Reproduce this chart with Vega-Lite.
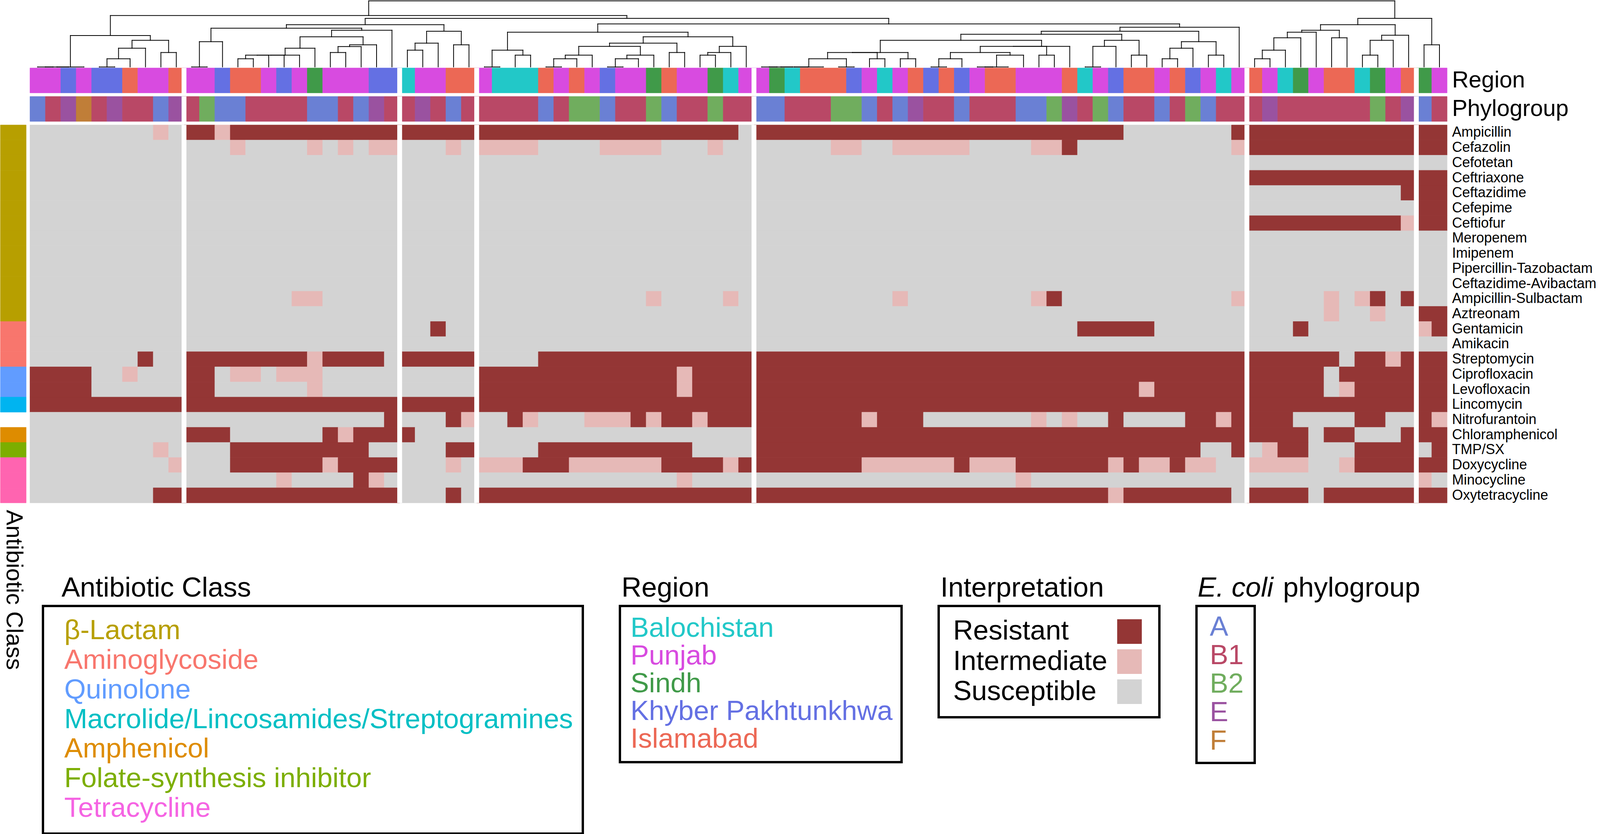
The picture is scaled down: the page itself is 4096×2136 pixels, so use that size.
{
"$schema": "https://vega.github.io/schema/vega-lite/v6.json",
"padding": 0,
"autosize": {"type": "pad"},
"background": "white",
"config": {"view": {"stroke": null}, "axis": {"grid": false}},
"datasets": {
"drugs": [
{"drug":"Ampicillin","class":"β-Lactam"},{"drug":"Cefazolin","class":"β-Lactam"},{"drug":"Cefotetan","class":"β-Lactam"},{"drug":"Ceftriaxone","class":"β-Lactam"},{"drug":"Ceftazidime","class":"β-Lactam"},{"drug":"Cefepime","class":"β-Lactam"},{"drug":"Ceftiofur","class":"β-Lactam"},{"drug":"Meropenem","class":"β-Lactam"},{"drug":"Imipenem","class":"β-Lactam"},{"drug":"Pipercillin-Tazobactam","class":"β-Lactam"},{"drug":"Ceftazidime-Avibactam","class":"β-Lactam"},{"drug":"Ampicillin-Sulbactam","class":"β-Lactam"},{"drug":"Aztreonam","class":"β-Lactam"},
{"drug":"Gentamicin","class":"Aminoglycoside"},{"drug":"Amikacin","class":"Aminoglycoside"},{"drug":"Streptomycin","class":"Aminoglycoside"},
{"drug":"Ciprofloxacin","class":"Quinolone"},{"drug":"Levofloxacin","class":"Quinolone"},
{"drug":"Lincomycin","class":"Macrolide/Lincosamides/Streptogramines"},
{"drug":"Chloramphenicol","class":"Amphenicol"},
{"drug":"TMP/SX","class":"Folate-synthesis inhibitor"},
{"drug":"Doxycycline","class":"Tetracycline"},{"drug":"Minocycline","class":"Tetracycline"},{"drug":"Oxytetracycline","class":"Tetracycline"}
],
"calls": [
{"drug":"Ampicillin","from":0,"to":8,"call":"S"},{"drug":"Ampicillin","from":8,"to":9,"call":"I"},{"drug":"Ampicillin","from":9,"to":10,"call":"S"},{"drug":"Ampicillin","from":10,"to":12,"call":"R"},{"drug":"Ampicillin","from":12,"to":13,"call":"I"},{"drug":"Ampicillin","from":13,"to":46,"call":"R"},{"drug":"Ampicillin","from":46,"to":47,"call":"S"},{"drug":"Ampicillin","from":47,"to":71,"call":"R"},{"drug":"Ampicillin","from":71,"to":78,"call":"S"},{"drug":"Ampicillin","from":78,"to":92,"call":"R"},
{"drug":"Cefazolin","from":0,"to":13,"call":"S"},{"drug":"Cefazolin","from":13,"to":14,"call":"I"},{"drug":"Cefazolin","from":14,"to":18,"call":"S"},{"drug":"Cefazolin","from":18,"to":19,"call":"I"},{"drug":"Cefazolin","from":19,"to":20,"call":"S"},{"drug":"Cefazolin","from":20,"to":21,"call":"I"},{"drug":"Cefazolin","from":21,"to":22,"call":"S"},{"drug":"Cefazolin","from":22,"to":24,"call":"I"},{"drug":"Cefazolin","from":24,"to":27,"call":"S"},{"drug":"Cefazolin","from":27,"to":28,"call":"I"},{"drug":"Cefazolin","from":28,"to":29,"call":"S"},{"drug":"Cefazolin","from":29,"to":33,"call":"I"},{"drug":"Cefazolin","from":33,"to":37,"call":"S"},{"drug":"Cefazolin","from":37,"to":41,"call":"I"},{"drug":"Cefazolin","from":41,"to":44,"call":"S"},{"drug":"Cefazolin","from":44,"to":45,"call":"I"},{"drug":"Cefazolin","from":45,"to":52,"call":"S"},{"drug":"Cefazolin","from":52,"to":54,"call":"I"},{"drug":"Cefazolin","from":54,"to":56,"call":"S"},{"drug":"Cefazolin","from":56,"to":61,"call":"I"},{"drug":"Cefazolin","from":61,"to":65,"call":"S"},{"drug":"Cefazolin","from":65,"to":67,"call":"I"},{"drug":"Cefazolin","from":67,"to":68,"call":"R"},{"drug":"Cefazolin","from":68,"to":78,"call":"S"},{"drug":"Cefazolin","from":78,"to":79,"call":"I"},{"drug":"Cefazolin","from":79,"to":92,"call":"R"},
{"drug":"Cefotetan","from":0,"to":92,"call":"S"},
{"drug":"Ceftriaxone","from":0,"to":79,"call":"S"},{"drug":"Ceftriaxone","from":79,"to":92,"call":"R"},
{"drug":"Ceftazidime","from":0,"to":89,"call":"S"},{"drug":"Ceftazidime","from":89,"to":92,"call":"R"},
{"drug":"Cefepime","from":0,"to":90,"call":"S"},{"drug":"Cefepime","from":90,"to":92,"call":"R"},
{"drug":"Ceftiofur","from":0,"to":79,"call":"S"},{"drug":"Ceftiofur","from":79,"to":89,"call":"R"},{"drug":"Ceftiofur","from":89,"to":90,"call":"I"},{"drug":"Ceftiofur","from":90,"to":92,"call":"R"},
{"drug":"Meropenem","from":0,"to":92,"call":"S"},
{"drug":"Imipenem","from":0,"to":92,"call":"S"},
{"drug":"Pipercillin-Tazobactam","from":0,"to":92,"call":"S"},
{"drug":"Ceftazidime-Avibactam","from":0,"to":92,"call":"S"},
{"drug":"Ampicillin-Sulbactam","from":0,"to":17,"call":"S"},{"drug":"Ampicillin-Sulbactam","from":17,"to":19,"call":"I"},{"drug":"Ampicillin-Sulbactam","from":19,"to":40,"call":"S"},{"drug":"Ampicillin-Sulbactam","from":40,"to":41,"call":"I"},{"drug":"Ampicillin-Sulbactam","from":41,"to":45,"call":"S"},{"drug":"Ampicillin-Sulbactam","from":45,"to":46,"call":"I"},{"drug":"Ampicillin-Sulbactam","from":46,"to":56,"call":"S"},{"drug":"Ampicillin-Sulbactam","from":56,"to":57,"call":"I"},{"drug":"Ampicillin-Sulbactam","from":57,"to":65,"call":"S"},{"drug":"Ampicillin-Sulbactam","from":65,"to":66,"call":"I"},{"drug":"Ampicillin-Sulbactam","from":66,"to":67,"call":"R"},{"drug":"Ampicillin-Sulbactam","from":67,"to":78,"call":"S"},{"drug":"Ampicillin-Sulbactam","from":78,"to":79,"call":"I"},{"drug":"Ampicillin-Sulbactam","from":79,"to":84,"call":"S"},{"drug":"Ampicillin-Sulbactam","from":84,"to":85,"call":"I"},{"drug":"Ampicillin-Sulbactam","from":85,"to":86,"call":"S"},{"drug":"Ampicillin-Sulbactam","from":86,"to":87,"call":"I"},{"drug":"Ampicillin-Sulbactam","from":87,"to":88,"call":"R"},{"drug":"Ampicillin-Sulbactam","from":88,"to":89,"call":"S"},{"drug":"Ampicillin-Sulbactam","from":89,"to":90,"call":"R"},{"drug":"Ampicillin-Sulbactam","from":90,"to":92,"call":"S"},
{"drug":"Aztreonam","from":0,"to":84,"call":"S"},{"drug":"Aztreonam","from":84,"to":85,"call":"I"},{"drug":"Aztreonam","from":85,"to":87,"call":"S"},{"drug":"Aztreonam","from":87,"to":88,"call":"I"},{"drug":"Aztreonam","from":88,"to":90,"call":"S"},{"drug":"Aztreonam","from":90,"to":92,"call":"R"},
{"drug":"Gentamicin","from":0,"to":26,"call":"S"},{"drug":"Gentamicin","from":26,"to":27,"call":"R"},{"drug":"Gentamicin","from":27,"to":68,"call":"S"},{"drug":"Gentamicin","from":68,"to":73,"call":"R"},{"drug":"Gentamicin","from":73,"to":82,"call":"S"},{"drug":"Gentamicin","from":82,"to":83,"call":"R"},{"drug":"Gentamicin","from":83,"to":90,"call":"S"},{"drug":"Gentamicin","from":90,"to":91,"call":"I"},{"drug":"Gentamicin","from":91,"to":92,"call":"R"},
{"drug":"Amikacin","from":0,"to":92,"call":"S"},
{"drug":"Streptomycin","from":0,"to":7,"call":"S"},{"drug":"Streptomycin","from":7,"to":8,"call":"R"},{"drug":"Streptomycin","from":8,"to":10,"call":"S"},{"drug":"Streptomycin","from":10,"to":18,"call":"R"},{"drug":"Streptomycin","from":18,"to":19,"call":"I"},{"drug":"Streptomycin","from":19,"to":23,"call":"R"},{"drug":"Streptomycin","from":23,"to":24,"call":"S"},{"drug":"Streptomycin","from":24,"to":29,"call":"R"},{"drug":"Streptomycin","from":29,"to":33,"call":"S"},{"drug":"Streptomycin","from":33,"to":85,"call":"R"},{"drug":"Streptomycin","from":85,"to":86,"call":"S"},{"drug":"Streptomycin","from":86,"to":88,"call":"R"},{"drug":"Streptomycin","from":88,"to":89,"call":"I"},{"drug":"Streptomycin","from":89,"to":92,"call":"R"},
{"drug":"Ciprofloxacin","from":0,"to":4,"call":"R"},{"drug":"Ciprofloxacin","from":4,"to":6,"call":"S"},{"drug":"Ciprofloxacin","from":6,"to":7,"call":"I"},{"drug":"Ciprofloxacin","from":7,"to":10,"call":"S"},{"drug":"Ciprofloxacin","from":10,"to":12,"call":"R"},{"drug":"Ciprofloxacin","from":12,"to":13,"call":"S"},{"drug":"Ciprofloxacin","from":13,"to":15,"call":"I"},{"drug":"Ciprofloxacin","from":15,"to":16,"call":"S"},{"drug":"Ciprofloxacin","from":16,"to":19,"call":"I"},{"drug":"Ciprofloxacin","from":19,"to":29,"call":"S"},{"drug":"Ciprofloxacin","from":29,"to":42,"call":"R"},{"drug":"Ciprofloxacin","from":42,"to":43,"call":"I"},{"drug":"Ciprofloxacin","from":43,"to":84,"call":"R"},{"drug":"Ciprofloxacin","from":84,"to":85,"call":"S"},{"drug":"Ciprofloxacin","from":85,"to":92,"call":"R"},
{"drug":"Levofloxacin","from":0,"to":4,"call":"R"},{"drug":"Levofloxacin","from":4,"to":10,"call":"S"},{"drug":"Levofloxacin","from":10,"to":12,"call":"R"},{"drug":"Levofloxacin","from":12,"to":18,"call":"S"},{"drug":"Levofloxacin","from":18,"to":19,"call":"I"},{"drug":"Levofloxacin","from":19,"to":29,"call":"S"},{"drug":"Levofloxacin","from":29,"to":42,"call":"R"},{"drug":"Levofloxacin","from":42,"to":43,"call":"I"},{"drug":"Levofloxacin","from":43,"to":72,"call":"R"},{"drug":"Levofloxacin","from":72,"to":73,"call":"I"},{"drug":"Levofloxacin","from":73,"to":84,"call":"R"},{"drug":"Levofloxacin","from":84,"to":85,"call":"S"},{"drug":"Levofloxacin","from":85,"to":86,"call":"I"},{"drug":"Levofloxacin","from":86,"to":92,"call":"R"},
{"drug":"Lincomycin","from":0,"to":92,"call":"R"},
{"drug":"Nitrofurantoin","from":0,"to":23,"call":"S"},{"drug":"Nitrofurantoin","from":23,"to":24,"call":"R"},{"drug":"Nitrofurantoin","from":24,"to":27,"call":"S"},{"drug":"Nitrofurantoin","from":27,"to":28,"call":"R"},{"drug":"Nitrofurantoin","from":28,"to":29,"call":"I"},{"drug":"Nitrofurantoin","from":29,"to":31,"call":"S"},{"drug":"Nitrofurantoin","from":31,"to":32,"call":"R"},{"drug":"Nitrofurantoin","from":32,"to":33,"call":"I"},{"drug":"Nitrofurantoin","from":33,"to":36,"call":"S"},{"drug":"Nitrofurantoin","from":36,"to":39,"call":"I"},{"drug":"Nitrofurantoin","from":39,"to":40,"call":"R"},{"drug":"Nitrofurantoin","from":40,"to":41,"call":"I"},{"drug":"Nitrofurantoin","from":41,"to":43,"call":"R"},{"drug":"Nitrofurantoin","from":43,"to":44,"call":"I"},{"drug":"Nitrofurantoin","from":44,"to":54,"call":"R"},{"drug":"Nitrofurantoin","from":54,"to":55,"call":"I"},{"drug":"Nitrofurantoin","from":55,"to":58,"call":"R"},{"drug":"Nitrofurantoin","from":58,"to":65,"call":"S"},{"drug":"Nitrofurantoin","from":65,"to":66,"call":"I"},{"drug":"Nitrofurantoin","from":66,"to":67,"call":"S"},{"drug":"Nitrofurantoin","from":67,"to":68,"call":"I"},{"drug":"Nitrofurantoin","from":68,"to":70,"call":"S"},{"drug":"Nitrofurantoin","from":70,"to":71,"call":"R"},{"drug":"Nitrofurantoin","from":71,"to":75,"call":"S"},{"drug":"Nitrofurantoin","from":75,"to":77,"call":"R"},{"drug":"Nitrofurantoin","from":77,"to":78,"call":"I"},{"drug":"Nitrofurantoin","from":78,"to":82,"call":"R"},{"drug":"Nitrofurantoin","from":82,"to":86,"call":"S"},{"drug":"Nitrofurantoin","from":86,"to":88,"call":"R"},{"drug":"Nitrofurantoin","from":88,"to":90,"call":"S"},{"drug":"Nitrofurantoin","from":90,"to":91,"call":"R"},{"drug":"Nitrofurantoin","from":91,"to":92,"call":"I"},
{"drug":"Chloramphenicol","from":0,"to":10,"call":"S"},{"drug":"Chloramphenicol","from":10,"to":13,"call":"R"},{"drug":"Chloramphenicol","from":13,"to":19,"call":"S"},{"drug":"Chloramphenicol","from":19,"to":20,"call":"R"},{"drug":"Chloramphenicol","from":20,"to":21,"call":"I"},{"drug":"Chloramphenicol","from":21,"to":25,"call":"R"},{"drug":"Chloramphenicol","from":25,"to":47,"call":"S"},{"drug":"Chloramphenicol","from":47,"to":83,"call":"R"},{"drug":"Chloramphenicol","from":83,"to":84,"call":"S"},{"drug":"Chloramphenicol","from":84,"to":86,"call":"R"},{"drug":"Chloramphenicol","from":86,"to":89,"call":"S"},{"drug":"Chloramphenicol","from":89,"to":92,"call":"R"},
{"drug":"TMP/SX","from":0,"to":8,"call":"S"},{"drug":"TMP/SX","from":8,"to":9,"call":"I"},{"drug":"TMP/SX","from":9,"to":13,"call":"S"},{"drug":"TMP/SX","from":13,"to":22,"call":"R"},{"drug":"TMP/SX","from":22,"to":27,"call":"S"},{"drug":"TMP/SX","from":27,"to":29,"call":"R"},{"drug":"TMP/SX","from":29,"to":33,"call":"S"},{"drug":"TMP/SX","from":33,"to":43,"call":"R"},{"drug":"TMP/SX","from":43,"to":47,"call":"S"},{"drug":"TMP/SX","from":47,"to":76,"call":"R"},{"drug":"TMP/SX","from":76,"to":78,"call":"S"},{"drug":"TMP/SX","from":78,"to":79,"call":"R"},{"drug":"TMP/SX","from":79,"to":80,"call":"S"},{"drug":"TMP/SX","from":80,"to":81,"call":"I"},{"drug":"TMP/SX","from":81,"to":83,"call":"R"},{"drug":"TMP/SX","from":83,"to":86,"call":"S"},{"drug":"TMP/SX","from":86,"to":90,"call":"R"},{"drug":"TMP/SX","from":90,"to":91,"call":"S"},{"drug":"TMP/SX","from":91,"to":92,"call":"R"},
{"drug":"Doxycycline","from":0,"to":9,"call":"S"},{"drug":"Doxycycline","from":9,"to":10,"call":"I"},{"drug":"Doxycycline","from":10,"to":13,"call":"S"},{"drug":"Doxycycline","from":13,"to":19,"call":"R"},{"drug":"Doxycycline","from":19,"to":20,"call":"I"},{"drug":"Doxycycline","from":20,"to":24,"call":"R"},{"drug":"Doxycycline","from":24,"to":27,"call":"S"},{"drug":"Doxycycline","from":27,"to":28,"call":"I"},{"drug":"Doxycycline","from":28,"to":29,"call":"S"},{"drug":"Doxycycline","from":29,"to":32,"call":"I"},{"drug":"Doxycycline","from":32,"to":35,"call":"R"},{"drug":"Doxycycline","from":35,"to":41,"call":"I"},{"drug":"Doxycycline","from":41,"to":45,"call":"R"},{"drug":"Doxycycline","from":45,"to":46,"call":"I"},{"drug":"Doxycycline","from":46,"to":54,"call":"R"},{"drug":"Doxycycline","from":54,"to":60,"call":"I"},{"drug":"Doxycycline","from":60,"to":61,"call":"R"},{"drug":"Doxycycline","from":61,"to":64,"call":"I"},{"drug":"Doxycycline","from":64,"to":70,"call":"R"},{"drug":"Doxycycline","from":70,"to":71,"call":"I"},{"drug":"Doxycycline","from":71,"to":72,"call":"R"},{"drug":"Doxycycline","from":72,"to":74,"call":"I"},{"drug":"Doxycycline","from":74,"to":75,"call":"R"},{"drug":"Doxycycline","from":75,"to":77,"call":"I"},{"drug":"Doxycycline","from":77,"to":79,"call":"S"},{"drug":"Doxycycline","from":79,"to":83,"call":"I"},{"drug":"Doxycycline","from":83,"to":85,"call":"S"},{"drug":"Doxycycline","from":85,"to":86,"call":"I"},{"drug":"Doxycycline","from":86,"to":92,"call":"R"},
{"drug":"Minocycline","from":0,"to":16,"call":"S"},{"drug":"Minocycline","from":16,"to":17,"call":"I"},{"drug":"Minocycline","from":17,"to":21,"call":"S"},{"drug":"Minocycline","from":21,"to":22,"call":"R"},{"drug":"Minocycline","from":22,"to":23,"call":"I"},{"drug":"Minocycline","from":23,"to":42,"call":"S"},{"drug":"Minocycline","from":42,"to":43,"call":"I"},{"drug":"Minocycline","from":43,"to":64,"call":"S"},{"drug":"Minocycline","from":64,"to":65,"call":"I"},{"drug":"Minocycline","from":65,"to":90,"call":"S"},{"drug":"Minocycline","from":90,"to":91,"call":"I"},{"drug":"Minocycline","from":91,"to":92,"call":"S"},
{"drug":"Oxytetracycline","from":0,"to":8,"call":"S"},{"drug":"Oxytetracycline","from":8,"to":24,"call":"R"},{"drug":"Oxytetracycline","from":24,"to":27,"call":"S"},{"drug":"Oxytetracycline","from":27,"to":28,"call":"R"},{"drug":"Oxytetracycline","from":28,"to":29,"call":"S"},{"drug":"Oxytetracycline","from":29,"to":70,"call":"R"},{"drug":"Oxytetracycline","from":70,"to":71,"call":"I"},{"drug":"Oxytetracycline","from":71,"to":78,"call":"R"},{"drug":"Oxytetracycline","from":78,"to":79,"call":"S"},{"drug":"Oxytetracycline","from":79,"to":83,"call":"R"},{"drug":"Oxytetracycline","from":83,"to":84,"call":"S"},{"drug":"Oxytetracycline","from":84,"to":92,"call":"R"}
],
"region": [
{"from":0,"to":2,"region":"Punjab"},{"from":2,"to":3,"region":"Khyber Pakhtunkhwa"},{"from":3,"to":4,"region":"Punjab"},{"from":4,"to":6,"region":"Khyber Pakhtunkhwa"},{"from":6,"to":7,"region":"Islamabad"},{"from":7,"to":9,"region":"Punjab"},{"from":9,"to":10,"region":"Islamabad"},
{"from":10,"to":12,"region":"Punjab"},{"from":12,"to":13,"region":"Khyber Pakhtunkhwa"},{"from":13,"to":15,"region":"Islamabad"},{"from":15,"to":16,"region":"Punjab"},{"from":16,"to":17,"region":"Khyber Pakhtunkhwa"},{"from":17,"to":18,"region":"Punjab"},{"from":18,"to":19,"region":"Sindh"},{"from":19,"to":22,"region":"Punjab"},{"from":22,"to":24,"region":"Khyber Pakhtunkhwa"},
{"from":24,"to":25,"region":"Balochistan"},{"from":25,"to":27,"region":"Punjab"},{"from":27,"to":29,"region":"Islamabad"},
{"from":29,"to":30,"region":"Punjab"},{"from":30,"to":33,"region":"Balochistan"},{"from":33,"to":34,"region":"Islamabad"},{"from":34,"to":35,"region":"Punjab"},{"from":35,"to":36,"region":"Islamabad"},{"from":36,"to":37,"region":"Punjab"},{"from":37,"to":38,"region":"Khyber Pakhtunkhwa"},{"from":38,"to":40,"region":"Punjab"},{"from":40,"to":41,"region":"Sindh"},{"from":41,"to":42,"region":"Islamabad"},{"from":42,"to":44,"region":"Punjab"},{"from":44,"to":45,"region":"Sindh"},{"from":45,"to":46,"region":"Balochistan"},{"from":46,"to":48,"region":"Punjab"},
{"from":48,"to":49,"region":"Sindh"},{"from":49,"to":50,"region":"Balochistan"},{"from":50,"to":53,"region":"Islamabad"},{"from":53,"to":54,"region":"Khyber Pakhtunkhwa"},{"from":54,"to":55,"region":"Punjab"},{"from":55,"to":56,"region":"Balochistan"},{"from":56,"to":57,"region":"Punjab"},{"from":57,"to":58,"region":"Islamabad"},{"from":58,"to":59,"region":"Khyber Pakhtunkhwa"},{"from":59,"to":60,"region":"Islamabad"},{"from":60,"to":61,"region":"Khyber Pakhtunkhwa"},{"from":61,"to":62,"region":"Punjab"},{"from":62,"to":64,"region":"Islamabad"},{"from":64,"to":67,"region":"Punjab"},{"from":67,"to":68,"region":"Islamabad"},{"from":68,"to":69,"region":"Balochistan"},{"from":69,"to":70,"region":"Punjab"},{"from":70,"to":71,"region":"Khyber Pakhtunkhwa"},{"from":71,"to":73,"region":"Islamabad"},{"from":73,"to":74,"region":"Punjab"},{"from":74,"to":75,"region":"Islamabad"},{"from":75,"to":76,"region":"Khyber Pakhtunkhwa"},{"from":76,"to":77,"region":"Punjab"},{"from":77,"to":78,"region":"Balochistan"},{"from":78,"to":79,"region":"Punjab"},
{"from":79,"to":80,"region":"Islamabad"},{"from":80,"to":81,"region":"Punjab"},{"from":81,"to":82,"region":"Balochistan"},{"from":82,"to":83,"region":"Sindh"},{"from":83,"to":84,"region":"Punjab"},{"from":84,"to":86,"region":"Islamabad"},{"from":86,"to":87,"region":"Balochistan"},{"from":87,"to":88,"region":"Sindh"},{"from":88,"to":89,"region":"Punjab"},{"from":89,"to":90,"region":"Islamabad"},
{"from":90,"to":91,"region":"Sindh"},{"from":91,"to":92,"region":"Punjab"}
],
"phylo": [
{"from":0,"to":1,"group":"A"},{"from":1,"to":2,"group":"B1"},{"from":2,"to":3,"group":"E"},{"from":3,"to":4,"group":"F"},{"from":4,"to":5,"group":"B1"},{"from":5,"to":6,"group":"E"},{"from":6,"to":8,"group":"B1"},{"from":8,"to":9,"group":"A"},{"from":9,"to":10,"group":"E"},
{"from":10,"to":11,"group":"B1"},{"from":11,"to":12,"group":"B2"},{"from":12,"to":14,"group":"A"},{"from":14,"to":18,"group":"B1"},{"from":18,"to":20,"group":"A"},{"from":20,"to":21,"group":"B1"},{"from":21,"to":22,"group":"A"},{"from":22,"to":23,"group":"E"},{"from":23,"to":25,"group":"B1"},
{"from":25,"to":26,"group":"E"},{"from":26,"to":27,"group":"B1"},{"from":27,"to":28,"group":"A"},{"from":28,"to":33,"group":"B1"},{"from":33,"to":34,"group":"A"},{"from":34,"to":35,"group":"B1"},{"from":35,"to":37,"group":"B2"},{"from":37,"to":38,"group":"A"},{"from":38,"to":40,"group":"B1"},{"from":40,"to":41,"group":"B2"},{"from":41,"to":42,"group":"A"},{"from":42,"to":44,"group":"B1"},{"from":44,"to":45,"group":"B2"},{"from":45,"to":47,"group":"B1"},
{"from":47,"to":49,"group":"A"},{"from":49,"to":52,"group":"B1"},{"from":52,"to":54,"group":"B2"},{"from":54,"to":55,"group":"A"},{"from":55,"to":56,"group":"B1"},{"from":56,"to":57,"group":"A"},{"from":57,"to":58,"group":"E"},{"from":58,"to":60,"group":"B1"},{"from":60,"to":61,"group":"A"},{"from":61,"to":64,"group":"B1"},{"from":64,"to":66,"group":"A"},{"from":66,"to":67,"group":"B2"},{"from":67,"to":68,"group":"E"},{"from":68,"to":69,"group":"B1"},{"from":69,"to":70,"group":"B2"},{"from":70,"to":71,"group":"A"},{"from":71,"to":73,"group":"B1"},{"from":73,"to":74,"group":"A"},{"from":74,"to":75,"group":"B1"},{"from":75,"to":76,"group":"B2"},{"from":76,"to":77,"group":"A"},{"from":77,"to":80,"group":"B1"},
{"from":80,"to":81,"group":"E"},{"from":81,"to":87,"group":"B1"},{"from":87,"to":88,"group":"B2"},{"from":88,"to":89,"group":"B1"},{"from":89,"to":90,"group":"E"},
{"from":90,"to":91,"group":"A"},{"from":91,"to":92,"group":"B1"}
],
"tree": [
{"xl":0.5,"xr":1.5,"hl":0,"hr":0,"h":0},{"xl":1,"xr":2.5,"hl":0,"hr":0,"h":0},{"xl":1.75,"xr":3.5,"hl":0,"hr":0,"h":0},{"xl":4.5,"xr":5.5,"hl":0,"hr":0,"h":0},{"xl":5,"xr":6.5,"hl":0,"hr":0,"h":81},{"xl":5.75,"xr":7.5,"hl":81,"hr":0,"h":185},{"xl":8.5,"xr":9.5,"hl":0,"hr":0,"h":143},{"xl":6.625,"xr":9,"hl":185,"hr":143,"h":263},{"xl":2.625,"xr":7.8125,"hl":0,"hr":263,"h":311},
{"xl":10.5,"xr":11.5,"hl":0,"hr":0,"h":0},{"xl":11,"xr":12.5,"hl":0,"hr":0,"h":250},{"xl":13.5,"xr":14.5,"hl":0,"hr":0,"h":81},{"xl":14,"xr":15.5,"hl":81,"hr":0,"h":116},{"xl":14.75,"xr":16.5,"hl":116,"hr":0,"h":116},{"xl":15.625,"xr":17.5,"hl":116,"hr":0,"h":116},{"xl":16.5625,"xr":18.5,"hl":116,"hr":0,"h":185},{"xl":19.5,"xr":20.5,"hl":0,"hr":0,"h":143},{"xl":20,"xr":21.5,"hl":143,"hr":0,"h":201},{"xl":20.75,"xr":22.5,"hl":201,"hr":0,"h":219},{"xl":17.53,"xr":21.625,"hl":185,"hr":219,"h":298},{"xl":19.58,"xr":23.5,"hl":298,"hr":0,"h":363},{"xl":11.75,"xr":21.54,"hl":250,"hr":363,"h":383},
{"xl":24.5,"xr":25.5,"hl":0,"hr":0,"h":166},{"xl":25,"xr":26.5,"hl":166,"hr":0,"h":235},{"xl":27.5,"xr":28.5,"hl":0,"hr":0,"h":219},{"xl":25.75,"xr":28,"hl":235,"hr":219,"h":353},{"xl":16.645,"xr":26.875,"hl":383,"hr":353,"h":418},
{"xl":29.5,"xr":30.5,"hl":0,"hr":0,"h":0},{"xl":31.5,"xr":32.5,"hl":0,"hr":0,"h":116},{"xl":30,"xr":32,"hl":0,"hr":116,"h":166},{"xl":33.5,"xr":34.5,"hl":0,"hr":0,"h":0},{"xl":34,"xr":35.5,"hl":0,"hr":0,"h":81},{"xl":34.75,"xr":36.5,"hl":81,"hr":0,"h":116},{"xl":37.5,"xr":38.5,"hl":0,"hr":0,"h":0},{"xl":38,"xr":39.5,"hl":0,"hr":0,"h":81},{"xl":38.75,"xr":40.5,"hl":81,"hr":0,"h":116},{"xl":35.625,"xr":39.625,"hl":116,"hr":116,"h":203},{"xl":41.5,"xr":42.5,"hl":0,"hr":0,"h":143},{"xl":37.625,"xr":42,"hl":203,"hr":143,"h":235},{"xl":43.5,"xr":44.5,"hl":0,"hr":0,"h":116},{"xl":44,"xr":45.5,"hl":116,"hr":0,"h":143},{"xl":44.75,"xr":46.5,"hl":143,"hr":0,"h":203},{"xl":39.81,"xr":45.625,"hl":235,"hr":203,"h":298},{"xl":31,"xr":42.72,"hl":166,"hr":298,"h":343},
{"xl":47.5,"xr":48.5,"hl":0,"hr":0,"h":0},{"xl":48,"xr":49.5,"hl":0,"hr":0,"h":0},{"xl":48.75,"xr":50.5,"hl":0,"hr":0,"h":0},{"xl":49.625,"xr":51.5,"hl":0,"hr":0,"h":0},{"xl":52.5,"xr":53.5,"hl":0,"hr":0,"h":0},{"xl":50.56,"xr":53,"hl":0,"hr":0,"h":81},{"xl":54.5,"xr":55.5,"hl":0,"hr":0,"h":81},{"xl":56.5,"xr":57.5,"hl":0,"hr":0,"h":81},{"xl":51.78,"xr":55,"hl":81,"hr":81,"h":143},{"xl":53.39,"xr":57,"hl":143,"hr":81,"h":143},{"xl":58.5,"xr":59.5,"hl":0,"hr":0,"h":0},{"xl":59,"xr":60.5,"hl":0,"hr":0,"h":81},{"xl":61.5,"xr":62.5,"hl":0,"hr":0,"h":0},{"xl":62,"xr":63.5,"hl":0,"hr":0,"h":0},{"xl":62.75,"xr":64.5,"hl":0,"hr":0,"h":116},{"xl":59.75,"xr":63.625,"hl":81,"hr":116,"h":143},{"xl":65.5,"xr":66.5,"hl":0,"hr":0,"h":116},{"xl":61.69,"xr":66,"hl":143,"hr":116,"h":203},{"xl":63.84,"xr":67.5,"hl":203,"hr":0,"h":203},{"xl":55.2,"xr":65.67,"hl":143,"hr":203,"h":263},{"xl":68.5,"xr":69.5,"hl":0,"hr":0,"h":0},{"xl":69,"xr":70.5,"hl":0,"hr":0,"h":203},{"xl":71.5,"xr":72.5,"hl":0,"hr":0,"h":116},{"xl":69.75,"xr":72,"hl":203,"hr":116,"h":263},{"xl":60.43,"xr":70.875,"hl":263,"hr":263,"h":323},{"xl":73.5,"xr":74.5,"hl":0,"hr":0,"h":81},{"xl":74,"xr":75.5,"hl":81,"hr":0,"h":185},{"xl":76.5,"xr":77.5,"hl":0,"hr":0,"h":116},{"xl":74.75,"xr":77,"hl":185,"hr":116,"h":250},{"xl":65.65,"xr":75.875,"hl":323,"hr":250,"h":353},{"xl":70.76,"xr":78.5,"hl":353,"hr":0,"h":393},{"xl":36.86,"xr":74.63,"hl":343,"hr":393,"h":425},{"xl":21.76,"xr":55.75,"hl":418,"hr":425,"h":480},{"xl":5.22,"xr":38.75,"hl":311,"hr":480,"h":508},
{"xl":79.5,"xr":80.5,"hl":0,"hr":0,"h":81},{"xl":80,"xr":81.5,"hl":81,"hr":0,"h":166},{"xl":80.75,"xr":82.5,"hl":166,"hr":0,"h":288},{"xl":81.625,"xr":83.5,"hl":288,"hr":0,"h":343},{"xl":84.5,"xr":85.5,"hl":0,"hr":0,"h":288},{"xl":82.56,"xr":85,"hl":343,"hr":288,"h":363},{"xl":86.5,"xr":87.5,"hl":0,"hr":0,"h":116},{"xl":87,"xr":88.5,"hl":116,"hr":0,"h":263},{"xl":87.75,"xr":89.5,"hl":263,"hr":0,"h":313},{"xl":83.78,"xr":88.625,"hl":363,"hr":313,"h":418},{"xl":90.5,"xr":91.5,"hl":0,"hr":0,"h":219},{"xl":86.2,"xr":91,"hl":418,"hr":219,"h":480},{"xl":21.99,"xr":88.6,"hl":508,"hr":480,"h":653}
],
"breaks": [{"at":10},{"at":24},{"at":29},{"at":47},{"at":79},{"at":90}],
"classes": [{"class":"β-Lactam"},{"class":"Aminoglycoside"},{"class":"Quinolone"},{"class":"Macrolide/Lincosamides/Streptogramines"},{"class":"Amphenicol"},{"class":"Folate-synthesis inhibitor"},{"class":"Tetracycline"}],
"regions": [{"region":"Balochistan"},{"region":"Punjab"},{"region":"Sindh"},{"region":"Khyber Pakhtunkhwa"},{"region":"Islamabad"}],
"interp": [{"call":"R","label":"Resistant"},{"call":"I","label":"Intermediate"},{"call":"S","label":"Susceptible"}],
"groups": [{"group":"A"},{"group":"B1"},{"group":"B2"},{"group":"E"},{"group":"F"}],
"axislabel": [{"name":"Antibiotic Class"}]
},
"resolve": {"scale": {"x": "independent", "y": "independent", "fill": "independent", "stroke": "independent", "color": "independent"}},
"spacing": 10,
"vconcat": [
{
"columns": 2,
"bounds": "flush",
"spacing": {"row": 2, "column": 9.7},
"resolve": {"scale": {"x": "independent", "y": "independent", "fill": "independent", "stroke": "independent", "color": "independent"}},
"concat": [
{"width": 66, "height": 171.4, "data": {"values": []}, "mark": "point", "encoding": {}},
{"width": 3628, "height": 171.4, "data": {"name": "tree"},
 "layer": [
  {"mark": {"type": "rule", "color": "black", "strokeWidth": 2, "strokeCap": "square"},
   "encoding": {"x": {"field": "xl", "type": "quantitative", "scale": {"domain": [0, 92], "nice": false, "zero": false}, "axis": null},
                "y": {"field": "hl", "type": "quantitative", "scale": {"domain": [0, 662], "nice": false}, "axis": null},
                "y2": {"field": "h"}}},
  {"mark": {"type": "rule", "color": "black", "strokeWidth": 2, "strokeCap": "square"},
   "encoding": {"x": {"field": "xr", "type": "quantitative", "axis": null},
                "y": {"field": "hr", "type": "quantitative", "axis": null},
                "y2": {"field": "h"}}},
  {"mark": {"type": "rule", "color": "black", "strokeWidth": 2, "strokeCap": "square"},
   "encoding": {"x": {"field": "xl", "type": "quantitative", "axis": null},
                "x2": {"field": "xr"},
                "y": {"field": "h", "type": "quantitative", "axis": null}}}
 ]},
{"width": 66, "height": 71, "data": {"values": []}, "mark": "point", "encoding": {}},
{"width": 3628, "height": 71,
 "layer": [
  {"data": {"name": "region"}, "mark": {"type": "rect", "strokeWidth": 0.8},
   "encoding": {"x": {"field": "from", "type": "quantitative", "scale": {"domain": [0, 92], "nice": false, "zero": false}, "axis": null},
                "x2": {"field": "to"},
                "y": {"datum": "Region", "type": "nominal", "scale": {"paddingInner": 0, "paddingOuter": 0.0546875, "align": 0},
                      "axis": {"orient": "right", "title": null, "domain": false, "ticks": false, "tickSize": 0, "labelPadding": 12, "labelFont": "Liberation Sans", "labelFontSize": 59, "labelColor": "black", "labelLimit": 0}},
                "fill": {"field": "region", "type": "nominal", "scale": {"domain": ["Balochistan","Punjab","Sindh","Khyber Pakhtunkhwa","Islamabad"], "range": ["#22C8C8","#D84BE0","#409A49","#6470E3","#EC6855"]}, "legend": null},
                "stroke": {"field": "region", "type": "nominal", "scale": {"domain": ["Balochistan","Punjab","Sindh","Khyber Pakhtunkhwa","Islamabad"], "range": ["#22C8C8","#D84BE0","#409A49","#6470E3","#EC6855"]}, "legend": null}}},
  {"data": {"name": "breaks"}, "mark": {"type": "rule", "color": "white", "strokeWidth": 12.4},
   "encoding": {"x": {"field": "at", "type": "quantitative", "axis": null}}}
 ]},
{"width": 66, "height": 71, "data": {"values": []}, "mark": "point", "encoding": {}},
{"width": 3628, "height": 71,
 "layer": [
  {"data": {"name": "phylo"}, "mark": {"type": "rect", "strokeWidth": 0.8},
   "encoding": {"x": {"field": "from", "type": "quantitative", "scale": {"domain": [0, 92], "nice": false, "zero": false}, "axis": null},
                "x2": {"field": "to"},
                "y": {"datum": "Phylogroup", "type": "nominal", "scale": {"paddingInner": 0, "paddingOuter": 0.0546875, "align": 0},
                      "axis": {"orient": "right", "title": null, "domain": false, "ticks": false, "tickSize": 0, "labelPadding": 12, "labelFont": "Liberation Sans", "labelFontSize": 59, "labelColor": "black", "labelLimit": 0}},
                "fill": {"field": "group", "type": "nominal", "scale": {"domain": ["A","B1","B2","E","F"], "range": ["#6A80D4","#B94866","#70AD5E","#9A52A0","#C07E38"]}, "legend": null},
                "stroke": {"field": "group", "type": "nominal", "scale": {"domain": ["A","B1","B2","E","F"], "range": ["#6A80D4","#B94866","#70AD5E","#9A52A0","#C07E38"]}, "legend": null}}},
  {"data": {"name": "breaks"}, "mark": {"type": "rule", "color": "white", "strokeWidth": 12.4},
   "encoding": {"x": {"field": "at", "type": "quantitative", "axis": null}}}
 ]},
{"width": 66, "height": 968, "data": {"name": "drugs"}, "mark": {"type": "rect", "strokeWidth": 0.8},
 "encoding": {"y": {"field": "drug", "type": "nominal", "scale": {"domain": ["Ampicillin","Cefazolin","Cefotetan","Ceftriaxone","Ceftazidime","Cefepime","Ceftiofur","Meropenem","Imipenem","Pipercillin-Tazobactam","Ceftazidime-Avibactam","Ampicillin-Sulbactam","Aztreonam","Gentamicin","Amikacin","Streptomycin","Ciprofloxacin","Levofloxacin","Lincomycin","Nitrofurantoin","Chloramphenicol","TMP/SX","Doxycycline","Minocycline","Oxytetracycline"]}, "axis": null},
              "fill": {"field": "class", "type": "nominal", "scale": {"domain": ["β-Lactam","Aminoglycoside","Quinolone","Macrolide/Lincosamides/Streptogramines","Amphenicol","Folate-synthesis inhibitor","Tetracycline"], "range": ["#B79F00","#F8766D","#619CFF","#00B4F0","#DE8C00","#7CAE00","#FF64B0"]}, "legend": null},
              "stroke": {"field": "class", "type": "nominal", "scale": {"domain": ["β-Lactam","Aminoglycoside","Quinolone","Macrolide/Lincosamides/Streptogramines","Amphenicol","Folate-synthesis inhibitor","Tetracycline"], "range": ["#B79F00","#F8766D","#619CFF","#00B4F0","#DE8C00","#7CAE00","#FF64B0"]}, "legend": null}}},
{"width": 3628, "height": 968,
 "layer": [
  {"data": {"name": "calls"}, "mark": {"type": "rect", "strokeWidth": 0.8},
   "encoding": {"x": {"field": "from", "type": "quantitative", "scale": {"domain": [0, 92], "nice": false, "zero": false}, "axis": null},
                "x2": {"field": "to"},
                "y": {"field": "drug", "type": "nominal", "scale": {"domain": ["Ampicillin","Cefazolin","Cefotetan","Ceftriaxone","Ceftazidime","Cefepime","Ceftiofur","Meropenem","Imipenem","Pipercillin-Tazobactam","Ceftazidime-Avibactam","Ampicillin-Sulbactam","Aztreonam","Gentamicin","Amikacin","Streptomycin","Ciprofloxacin","Levofloxacin","Lincomycin","Nitrofurantoin","Chloramphenicol","TMP/SX","Doxycycline","Minocycline","Oxytetracycline"]},
                      "axis": {"orient": "right", "title": null, "domain": false, "ticks": false, "tickSize": 0, "labelPadding": 12, "labelFont": "Liberation Sans", "labelFontSize": 36, "labelColor": "black", "labelLimit": 0}},
                "fill": {"field": "call", "type": "nominal", "scale": {"domain": ["R","I","S"], "range": ["#943635","#E6B9B7","#D3D3D3"]}, "legend": null},
                "stroke": {"field": "call", "type": "nominal", "scale": {"domain": ["R","I","S"], "range": ["#943635","#E6B9B7","#D3D3D3"]}, "legend": null}}},
  {"data": {"name": "breaks"}, "mark": {"type": "rule", "color": "white", "strokeWidth": 12.4},
   "encoding": {"x": {"field": "at", "type": "quantitative", "axis": null}}}
 ]}
]
},
{
"spacing": 43,
"resolve": {"scale": {"x": "independent", "y": "independent", "fill": "independent", "stroke": "independent", "color": "independent"}},
"hconcat": [
{"width": 10, "height": 10,
 "data": {"name": "axislabel"},
 "mark": {"type": "point", "opacity": 0},
 "encoding": {
  "y": {"datum": 0, "type": "quantitative", "scale": {"domain": [0, 1], "nice": false},
        "axis": {"orient": "left", "title": "Antibiotic Class", "labels": false, "ticks": false, "domain": false, "grid": false, "titleX": 33, "titleY": -247, "titleAngle": 90, "titleAlign": "left", "titleBaseline": "middle", "titleFont": "Liberation Sans", "titleFontSize": 60, "titleFontWeight": "normal", "titleColor": "black"}}
 }},
{
"spacing": 89,
"resolve": {"scale": {"x": "independent", "y": "independent", "fill": "independent", "stroke": "independent", "color": "independent"}},
"hconcat": [
{"width": 1382, "height": 583, "view": {"stroke": "black", "strokeWidth": 6},
 "data": {"name": "classes"},
 "mark": {"type": "text", "align": "left", "baseline": "middle", "dx": 54.6, "font": "Liberation Sans", "fontSize": 71},
 "encoding": {
  "x": {"datum": 0, "type": "quantitative", "scale": {"domain": [0, 1], "nice": false, "zero": false},
        "axis": {"orient": "top", "title": "Antibiotic Class", "labels": false, "ticks": false, "domain": false, "grid": false, "titleX": 47, "titleY": -24.5, "titleAngle": 0, "titleAlign": "left", "titleBaseline": "alphabetic", "titleFont": "Liberation Sans", "titleFontSize": 71, "titleFontWeight": "normal", "titleColor": "black"}},
  "y": {"field": "class", "type": "nominal", "sort": null, "scale": {"padding": 0.85}, "axis": null},
  "color": {"field": "class", "type": "nominal", "scale": {"domain": ["β-Lactam","Aminoglycoside","Quinolone","Macrolide/Lincosamides/Streptogramines","Amphenicol","Folate-synthesis inhibitor","Tetracycline"], "range": ["#B79F00","#F8766D","#619CFF","#00BFC4","#DE8C00","#7CAE00","#F564E3"]}, "legend": null},
  "text": {"field": "class"}
 }},
{"width": 721, "height": 400, "view": {"stroke": "black", "strokeWidth": 6},
 "data": {"name": "regions"},
 "mark": {"type": "text", "align": "left", "baseline": "middle", "dx": 27, "font": "Liberation Sans", "fontSize": 71},
 "encoding": {
  "x": {"datum": 0, "type": "quantitative", "scale": {"domain": [0, 1], "nice": false, "zero": false},
        "axis": {"orient": "top", "title": "Region", "labels": false, "ticks": false, "domain": false, "grid": false, "titleX": 3.4, "titleY": -24.5, "titleAngle": 0, "titleAlign": "left", "titleBaseline": "alphabetic", "titleFont": "Liberation Sans", "titleFontSize": 71, "titleFontWeight": "normal", "titleColor": "black"}},
  "y": {"field": "region", "type": "nominal", "sort": null, "scale": {"padding": 0.81}, "axis": null},
  "color": {"field": "region", "type": "nominal", "scale": {"domain": ["Balochistan","Punjab","Sindh","Khyber Pakhtunkhwa","Islamabad"], "range": ["#22C8C8","#D84BE0","#409A49","#6470E3","#EC6855"]}, "legend": null},
  "text": {"field": "region"}
 }},
{"width": 565, "height": 285, "view": {"stroke": "black", "strokeWidth": 6},
 "data": {"name": "interp"},
 "encoding": {"y": {"field": "label", "type": "nominal", "sort": null, "scale": {"padding": 0.85}, "axis": null}},
 "layer": [
  {"mark": {"type": "text", "align": "left", "baseline": "middle", "dx": 37, "font": "Liberation Sans", "fontSize": 71, "color": "black"},
   "encoding": {"x": {"datum": 0, "type": "quantitative", "scale": {"domain": [0, 1], "nice": false, "zero": false},
        "axis": {"orient": "top", "title": "Interpretation", "labels": false, "ticks": false, "domain": false, "grid": false, "titleX": 4, "titleY": -24.5, "titleAngle": 0, "titleAlign": "left", "titleBaseline": "alphabetic", "titleFont": "Liberation Sans", "titleFontSize": 71, "titleFontWeight": "normal", "titleColor": "black"}},
    "text": {"field": "label"}}},
  {"mark": {"type": "square", "size": 3969, "filled": true, "opacity": 1, "xOffset": -76.5},
   "encoding": {"x": {"datum": 1, "type": "quantitative"},
    "fill": {"field": "call", "type": "nominal", "scale": {"domain": ["R","I","S"], "range": ["#943635","#E6B9B7","#D3D3D3"]}, "legend": null}}}
 ]},
{"width": 149, "height": 402, "view": {"stroke": "black", "strokeWidth": 6},
 "data": {"name": "groups"},
 "mark": {"type": "text", "align": "left", "baseline": "middle", "dx": 34, "font": "Liberation Sans", "fontSize": 71},
 "encoding": {
  "x": {"datum": 0, "type": "quantitative", "scale": {"domain": [0, 1], "nice": false, "zero": false},
        "axis": {"orient": "top", "title": "phylogroup", "labels": false, "ticks": false, "domain": false, "grid": false, "titleX": 221, "titleY": -24.5, "titleAngle": 0, "titleAlign": "left", "titleBaseline": "alphabetic", "titleFont": "Liberation Sans", "titleFontSize": 71, "titleFontWeight": "normal", "titleColor": "black"}},
  "y": {"field": "group", "type": "nominal", "sort": null, "scale": {"padding": 0.75},
        "axis": {"orient": "left", "title": "E. coli", "labels": false, "ticks": false, "domain": false, "grid": false, "titleX": 2.6, "titleY": -24.5, "titleAngle": 0, "titleAlign": "left", "titleBaseline": "alphabetic", "titleFont": "Liberation Sans", "titleFontSize": 71, "titleFontWeight": "normal", "titleFontStyle": "italic", "titleColor": "black"}},
  "color": {"field": "group", "type": "nominal", "scale": {"domain": ["A","B1","B2","E","F"], "range": ["#6A80D4","#B94866","#70AD5E","#9A52A0","#C07E38"]}, "legend": null},
  "text": {"field": "group"}
 }}
]
}
]
}
]
}
